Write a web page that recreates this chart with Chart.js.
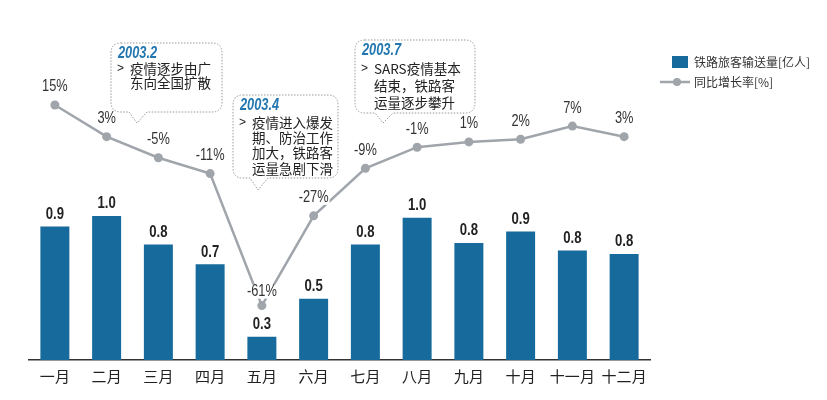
<!DOCTYPE html>
<html>
<head>
<meta charset="utf-8">
<script src="https://cdn.jsdelivr.net/npm/chart.js@4/dist/chart.umd.min.js"></script>
<style>
  html, body { margin: 0; padding: 0; background: #fff; }
  #wrap { width: 827px; height: 400px; }
</style>
</head>
<body>
<div id="wrap"><canvas id="c" width="827" height="400"></canvas></div>
<script>
// données
const months = ['一月', '二月', '三月', '四月', '五月', '六月', '七月', '八月', '九月', '十月', '十一月', '十二月'];
const passengers = [0.94, 1.0, 0.835, 0.72, 0.30, 0.52, 0.835, 0.99, 0.844, 0.91, 0.80, 0.78];
const growth = [15, 3, -5, -11, -61, -27, -9, -1, 1, 2, 7, 3];

const notes = [
    { title: '2003.2', lines: ['疫情逐步由广', '东向全国扩散'], box: [111, 43, 222, 112], tip: [137, 123], step: 14 },
    { title: '2003.4', lines: ['疫情进入爆发', '期、防治工作', '加大，铁路客', '运量急剧下滑'], box: [233, 95, 338, 178], tip: [258, 190], step: 15.4 },
    { title: '2003.7', lines: ['SARS疫情基本', '结束，铁路客', '运量逐步攀升'], box: [355, 40, 475, 113], tip: [383, 123], step: 16.8 }
];

const BLUE = '#176a9c';
const GREY = '#a0a5ab';
const SANS = '"Liberation Sans", Arial, sans-serif';
const CJK = '"Noto Sans CJK SC", "Noto Sans", sans-serif';

// texte étroit (pas d'Arial Narrow dispo) : on compresse horizontalement
function narrowText(ctx, txt, x, y, sx) {
    ctx.save();
    ctx.translate(x, y);
    ctx.scale(sx, 1);
    ctx.fillText(txt, 0, 0);
    ctx.restore();
}

function roundBox(ctx, x1, y1, x2, y2, r, tip) {
    ctx.beginPath();
    ctx.moveTo(x1 + r, y1);
    ctx.lineTo(x2 - r, y1);
    ctx.quadraticCurveTo(x2, y1, x2, y1 + r);
    ctx.lineTo(x2, y2 - r);
    ctx.quadraticCurveTo(x2, y2, x2 - r, y2);
    ctx.lineTo(tip[0] + 10, y2);
    ctx.lineTo(tip[0], tip[1]);
    ctx.lineTo(tip[0] - 8, y2);
    ctx.lineTo(x1 + r, y2);
    ctx.quadraticCurveTo(x1, y2, x1, y2 - r);
    ctx.lineTo(x1, y1 + r);
    ctx.quadraticCurveTo(x1, y1, x1 + r, y1);
    ctx.closePath();
}

const extras = {
    id: 'extras',
    afterDatasetsDraw(chart) {
        const ctx = chart.ctx;
        ctx.save();
        ctx.textAlign = 'center';
        ctx.textBaseline = 'middle';

        // valeurs des barres
        const bars = chart.getDatasetMeta(0).data;
        ctx.font = 'bold 16px ' + SANS;
        ctx.fillStyle = '#222';
        bars.forEach((b, i) => {
            narrowText(ctx, passengers[i].toFixed(1), b.x, b.y - 12, 0.82);
        });

        // valeurs de la courbe
        const pts = chart.getDatasetMeta(1).data;
        ctx.font = '16px ' + SANS;
        pts.forEach((p, i) => {
            const txt = growth[i] + '%';
            const w = ctx.measureText(txt).width * 0.8;
            const y = p.y - (i === 4 ? 14 : 18);
            ctx.fillStyle = '#fff';
            ctx.fillRect(p.x - w / 2 - 1, y - 7, w + 2, 14);
            ctx.fillStyle = '#333';
            narrowText(ctx, txt, p.x, y, 0.8);
        });
        ctx.restore();
    },
    afterDraw(chart) {
        const ctx = chart.ctx;
        ctx.save();

        // bulles d'annotation
        notes.forEach(n => {
            const [x1, y1, x2, y2] = n.box;
            roundBox(ctx, x1, y1, x2, y2, 10, n.tip);
            ctx.fillStyle = '#fff';
            ctx.fill();
            ctx.setLineDash([1.5, 1.5]);
            ctx.strokeStyle = '#9a9a9a';
            ctx.lineWidth = 1;
            ctx.stroke();
            ctx.setLineDash([]);

            ctx.textAlign = 'left';
            ctx.textBaseline = 'middle';
            ctx.font = 'italic bold 16px ' + SANS;
            ctx.fillStyle = '#2277b0';
            narrowText(ctx, n.title, x1 + 7, y1 + 11, 0.8);

            n.lines.forEach((l, k) => {
                const y = y1 + 12 + n.step * (k + 1);
                ctx.fillStyle = '#222';
                if (k === 0) {
                    ctx.font = '12px ' + SANS;
                    ctx.fillText('>', x1 + 6, y);
                }
                ctx.font = '13.5px ' + CJK;
                ctx.fillText(l, x1 + 19, y);
            });
        });

        // légende
        ctx.fillStyle = BLUE;
        ctx.fillRect(672, 56, 16, 12);
        ctx.strokeStyle = GREY;
        ctx.lineWidth = 2.5;
        ctx.beginPath();
        ctx.moveTo(660, 82);
        ctx.lineTo(690, 82);
        ctx.stroke();
        ctx.beginPath();
        ctx.arc(677, 82, 4, 0, Math.PI * 2);
        ctx.fillStyle = GREY;
        ctx.fill();
        ctx.font = '12px ' + CJK;
        ctx.fillStyle = '#333';
        ctx.textAlign = 'left';
        ctx.textBaseline = 'middle';
        ctx.fillText('铁路旅客输送量[亿人]', 694, 62);
        ctx.fillText('同比增长率[%]', 694, 82);
        ctx.restore();
    }
};

new Chart(document.getElementById('c').getContext('2d'), {
    type: 'bar',
    data: {
        labels: months,
        datasets: [{
            type: 'bar',
            data: passengers,
            backgroundColor: BLUE,
            barPercentage: 0.56,
            categoryPercentage: 1.0,
            yAxisID: 'y',
            order: 2
        }, {
            type: 'line',
            data: growth,
            borderColor: GREY,
            borderWidth: 2.5,
            pointRadius: 4.5,
            pointBackgroundColor: GREY,
            pointBorderWidth: 0,
            tension: 0,
            yAxisID: 'y1',
            order: 1
        }]
    },
    options: {
        responsive: false,
        animation: false,
        layout: { padding: { left: 29, right: 177, top: 30, bottom: 0 } },
        plugins: {
            legend: { display: false },
            tooltip: { enabled: false }
        },
        scales: {
            x: {
                grid: { display: false, drawTicks: false },
                border: { display: true, color: '#333', width: 1.5 },
                ticks: {
                    padding: 7,
                    color: '#222',
                    font: { family: CJK, size: 15 }
                },
                afterFit: s => { s.height = 40; }
            },
            y: { display: false, min: 0.165, max: 2.079 },
            y1: { display: false, min: -81.6, max: 43.4 }
        }
    },
    plugins: [extras]
});
</script>
</body>
</html>
